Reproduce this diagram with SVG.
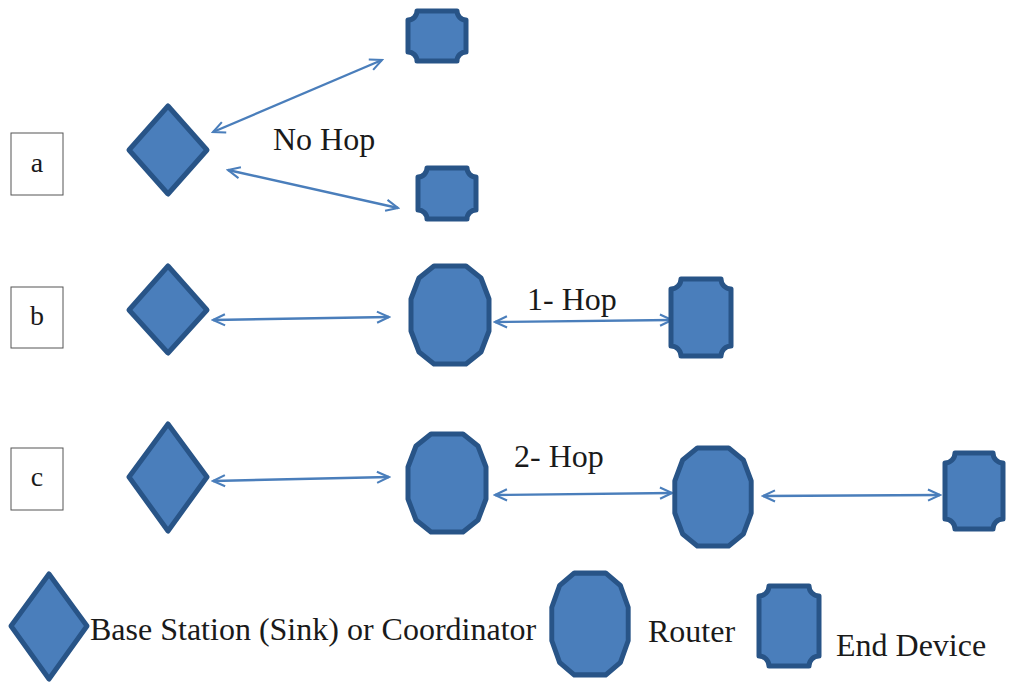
<svg xmlns="http://www.w3.org/2000/svg" width="1010" height="683" viewBox="0 0 1010 683">
  <style>
    .shape { fill: #4a7ebb; stroke: #285487; stroke-width: 5; stroke-linejoin: round; }
    .link { fill: none; stroke: #4a7ebb; stroke-width: 2.4; marker-start: url(#head); marker-end: url(#head); }
    .lbl { fill: #1a1a1a; font-family: "Liberation Serif", "Times New Roman", serif; font-size: 32px; }
    .tag { fill: #1a1a1a; font-family: "Liberation Serif", "Times New Roman", serif; font-size: 28px; text-anchor: middle; }
    .box { fill: #fff; stroke: #555; stroke-width: 1; }
  </style>
  <defs>
    <marker id="head" viewBox="0 0 20 20" refX="18" refY="10" markerWidth="16" markerHeight="16" markerUnits="userSpaceOnUse" orient="auto-start-reverse">
      <path d="M3,3 L18,10 L3,17" fill="none" stroke="#4a7ebb" stroke-width="2.6"/>
    </marker>
    <!-- router: 12-sided polygon, centred on 0,0 -->
    <polygon id="router" points="16,-49 31,-37 39,-16 39,16 31,37 16,49 -16,49 -31,37 -39,16 -39,-16 -31,-37 -16,-49"/>
  </defs>

  <rect width="1010" height="683" fill="#fff"/>

  <!-- row labels -->
  <g id="label-a"><rect class="box" x="11" y="133" width="52" height="62"/><text class="tag" x="37" y="172">a</text></g>
  <g id="label-b"><rect class="box" x="11" y="287" width="52" height="61"/><text class="tag" x="37" y="325">b</text></g>
  <g id="label-c"><rect class="box" x="11" y="448" width="52" height="62"/><text class="tag" x="37" y="486">c</text></g>

  <!-- connectors -->
  <g id="connectors">
    <line class="link" x1="213" y1="132" x2="382" y2="60"/>
    <line class="link" x1="228" y1="170" x2="398" y2="208"/>
    <line class="link" x1="213" y1="320" x2="389" y2="317"/>
    <line class="link" x1="495" y1="322" x2="672" y2="320"/>
    <line class="link" x1="213" y1="481" x2="389" y2="477"/>
    <line class="link" x1="495" y1="495" x2="672" y2="493"/>
    <line class="link" x1="763" y1="496" x2="940" y2="495"/>
  </g>

  <!-- row a -->
  <g id="sink-a"><polygon class="shape" points="168,106 207,150 168,194 129,150"/></g>
  <g id="end-a1"><path class="shape" d="M417,11 L457,11 A9,9 0 0 0 466,20 L466,52 A9,9 0 0 0 457,61 L417,61 A9,9 0 0 0 408,52 L408,20 A9,9 0 0 0 417,11 Z"/></g>
  <g id="end-a2"><path class="shape" d="M427,168 L467,168 A9,9 0 0 0 476,177 L476,210 A9,9 0 0 0 467,219 L427,219 A9,9 0 0 0 418,210 L418,177 A9,9 0 0 0 427,168 Z"/></g>
  <text class="lbl" x="273" y="150">No Hop</text>

  <!-- row b -->
  <g id="sink-b"><polygon class="shape" points="168,266 207,310 168,353 129,310"/></g>
  <g id="router-b"><use href="#router" class="shape" transform="translate(450,315)"/></g>
  <g id="end-b"><path class="shape" d="M681,279 L721,279 A10,10 0 0 0 731,289 L731,346 A10,10 0 0 0 721,356 L681,356 A10,10 0 0 0 671,346 L671,289 A10,10 0 0 0 681,279 Z"/></g>
  <text class="lbl" x="527" y="310">1- Hop</text>

  <!-- row c -->
  <g id="sink-c"><polygon class="shape" points="168,424 207,477 168,531 129,477"/></g>
  <g id="router-c1"><use href="#router" class="shape" transform="translate(447,483)"/></g>
  <g id="router-c2"><use href="#router" class="shape" transform="translate(713,497) scale(0.98,1.0)"/></g>
  <g id="end-c"><path class="shape" d="M955,453 L993,453 A10,10 0 0 0 1003,463 L1003,519 A10,10 0 0 0 993,529 L955,529 A10,10 0 0 0 945,519 L945,463 A10,10 0 0 0 955,453 Z"/></g>
  <text class="lbl" x="514" y="467">2- Hop</text>

  <!-- legend -->
  <g id="legend-sink"><polygon class="shape" points="49,574 87,626 49,679 11,626"/>
    <text class="lbl" x="90" y="640">Base Station (Sink) or Coordinator</text></g>
  <g id="legend-router"><use href="#router" class="shape" transform="translate(590,624) scale(0.98,1.04)"/>
    <text class="lbl" x="648" y="642">Router</text></g>
  <g id="legend-end"><path class="shape" d="M769,586 L809,586 A10,10 0 0 0 819,596 L819,656 A10,10 0 0 0 809,666 L769,666 A10,10 0 0 0 759,656 L759,596 A10,10 0 0 0 769,586 Z"/>
    <text class="lbl" x="836" y="656">End Device</text></g>
</svg>
